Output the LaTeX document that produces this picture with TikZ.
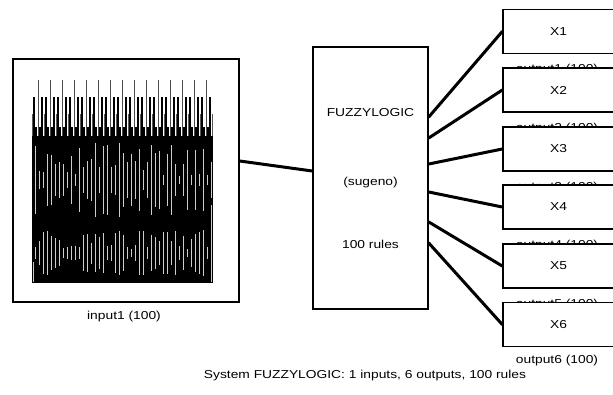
\documentclass[tikz,border=0pt]{standalone}
\usepackage{fontspec}
\setmainfont[FakeStretch=1.2]{Liberation Sans}
\begin{document}
\begin{tikzpicture}[x=1pt,y=-1pt,
  box/.style={draw=black,line width=1.5pt,fill=white,inner sep=0pt},
  lbl/.style={font=\fontsize{11.5}{13}\selectfont,inner sep=0pt},
  wire/.style={line width=3pt,line cap=round}]
\useasboundingbox (0,0) rectangle (613,394);
% input box
\node[box,minimum width=226pt,minimum height=243pt] (in) at (126,180.5) {};
% plot
\foreach \i in {0,...,90}{
  \pgfmathtruncatemacro{\m}{mod(\i,6)}
  \pgfmathsetmacro{\xx}{32+2*\i}
  \ifnum\m=3
    \draw[gray!60!black,line width=0.9pt] (\xx,138) -- (\xx,80);
  \else\ifnum\m=1
    \draw[black,line width=1.3pt] (\xx,138) -- (\xx,97);
  \else\ifnum\m=5
    \draw[black,line width=1.3pt] (\xx,138) -- (\xx,97);
  \else\ifnum\m=0
    \draw[gray!70!black,line width=0.8pt] (\xx,138) -- (\xx,114);
  \else
    \draw[black,line width=1.3pt] (\xx,138) -- (\xx,127);
  \fi\fi\fi\fi
}
\fill[black] (32,136) rectangle (213,283);
\pgfmathsetseed{7}
\foreach \i in {0,...,44}{
  \pgfmathsetmacro{\xx}{35+4*\i}
  \pgfmathsetmacro{\la}{4+rnd*34}
  \pgfmathsetmacro{\lb}{3+rnd*20}
  \draw[gray!40,line width=0.9pt] (\xx,180-\la) -- (\xx,180+\la);
  \draw[gray!40,line width=0.9pt] (\xx,253-\lb) -- (\xx,253+\lb);
}
\draw[gray!40,line width=0.9pt] (33,262) -- (33,282);
\draw[gray!40,line width=0.9pt] (211,205) -- (211,282);
\node[lbl] (inl) at (124,317) {input1 (100)};
% fuzzy box
\node[box,minimum width=115pt,minimum height=262pt] (fz) at (370.5,178) {};
\node[lbl] (t1) at (370.5,113) {FUZZYLOGIC};
\node[lbl] (t2) at (370.5,183) {(sugeno)};
\node[lbl] (t3) at (370.5,244) {100 rules};
\draw[wire] ([yshift=19.5pt]in.east) -- ([yshift=7pt]fz.west);
% outputs
\foreach \k/\c in {1/31.5,2/90,3/149,4/207,5/266}{
  \node[lbl] (ol\k) at (557,\c+38.5) {output\k\ (100)};
}
\node[lbl] (ol6) at (557,360.5) {output6 (100)};
\foreach \k/\c/\s in {1/31.5/61,2/90/40,3/149/14,4/207/-14,5/266/-44,6/324.5/-65}{
  \node[box,minimum width=111pt,minimum height=44pt] (o\k) at (558.5,\c) {};
  \node[lbl] (ot\k) at (o\k) {X\k};
  \draw[wire] ([yshift=\s pt]fz.east) -- (o\k.west);
}
\node[lbl] (cap) at (365,376) {System FUZZYLOGIC: 1 inputs, 6 outputs, 100 rules};
\end{tikzpicture}
\end{document}
